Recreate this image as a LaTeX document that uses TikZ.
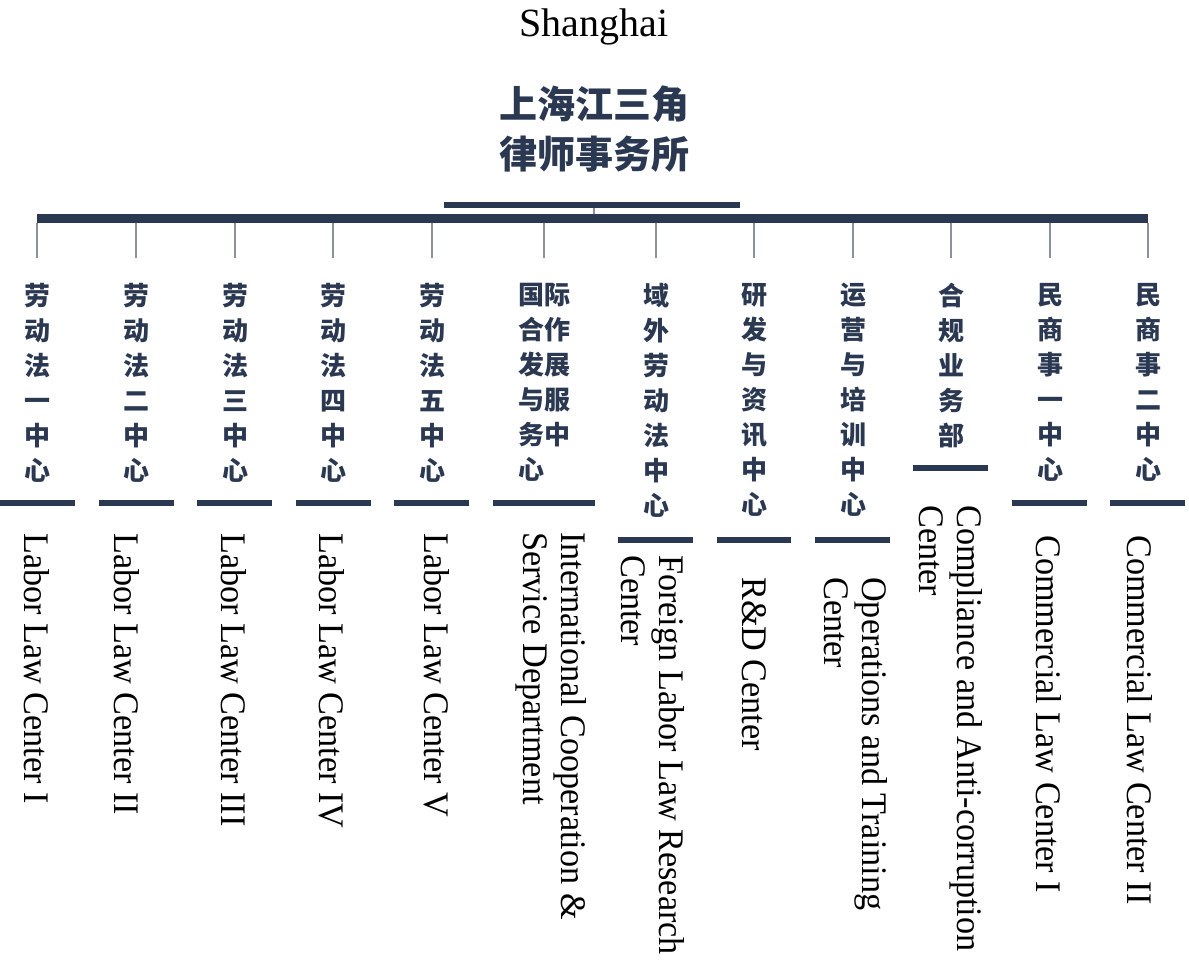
\documentclass[tikz,border=0pt]{standalone}
\usepackage{fontspec}
\setmainfont{Liberation Serif}
\newfontfamily\zhfont{Noto Sans CJK SC}
\newfontfamily\enfont[FakeStretch=0.95]{Liberation Serif}
\usetikzlibrary{positioning}
\definecolor{navy}{RGB}{43,56,82}
\definecolor{tickgray}{RGB}{140,146,156}

\begin{document}
\begin{tikzpicture}[x=1pt, y=-1pt,
    city/.style={font=\fontsize{40}{48}\selectfont, inner sep=0pt},
    title/.style={font=\zhfont\bfseries\fontsize{38}{50}\selectfont, text=navy, align=center, inner sep=0pt},
    zh/.style={font=\zhfont\bfseries\fontsize{26}{35}\selectfont, text=navy, inner sep=0pt, anchor=north, align=center},
    en/.style={font=\enfont\fontsize{36}{38}\selectfont, inner sep=0pt, anchor=north west, rotate=-90, align=left},
    topbar/.style={line width=6pt, navy},
    mainbar/.style={line width=9pt, navy},
    underbar/.style={line width=6pt, navy},
    drop/.style={line width=1.6pt, tickgray}]
    \useasboundingbox (0,0) rectangle (1189,962);

    % Heading
    \node[city] (city) at (594,27) {Shanghai};
    \node[title] (firm) at (594,129) {上海江三角\\律师事务所};

    % Bars
    \coordinate (hubtop) at (594,207.5);
    \coordinate (hubbot) at (594,214);
    \draw[topbar] (444,204.5) -- (740,204.5);
    \draw[mainbar] (37,218.5) -- (1148,218.5);
    \draw[drop] (hubtop) -- (hubbot);

    % Drops to the departments
    \foreach \i/\x in {1/37, 2/136, 3/235, 4/333, 5/432, 6/544, 7/656, 8/754, 9/853, 10/951, 11/1050, 12/1148} {
        \coordinate (top\i) at (\x,223);
        \coordinate (end\i) at (\x,258);
        \draw[drop] (top\i) -- (end\i);
    }

    % Chinese names
    \node[zh] (zh1) at (37,283) {劳\\动\\法\\一\\中\\心};
    \node[zh] (zh2) at (136,283) {劳\\动\\法\\二\\中\\心};
    \node[zh] (zh3) at (235,283) {劳\\动\\法\\三\\中\\心};
    \node[zh] (zh4) at (333,283) {劳\\动\\法\\四\\中\\心};
    \node[zh] (zh5) at (432,283) {劳\\动\\法\\五\\中\\心};
    \node[zh, align=left] (zh6) at (544,283) {国际\\合作\\发展\\与服\\务中\\心};
    \node[zh] (zh7) at (656,283) {域\\外\\劳\\动\\法\\中\\心};
    \node[zh] (zh8) at (754,283) {研\\发\\与\\资\\讯\\中\\心};
    \node[zh] (zh9) at (853,283) {运\\营\\与\\培\\训\\中\\心};
    \node[zh] (zh10) at (951,283) {合\\规\\业\\务\\部};
    \node[zh] (zh11) at (1050,283) {民\\商\\事\\一\\中\\心};
    \node[zh] (zh12) at (1148,283) {民\\商\\事\\二\\中\\心};

    % Underlines
    \foreach \a/\b/\y in {0/75/503, 99/174/503, 197/272/503, 296/371/503, 394/469/503, 493/595/503,
                          618/693/540, 717/791/540, 815/890/540, 913/988/468, 1012/1087/503, 1110/1185/503} {
        \draw[underbar] (\a,\y) -- (\b,\y);
    }

    % English names
    \node[en] (en1) at (50,533) {Labor Law Center I};
    \node[en] (en2) at (140,533) {Labor Law Center II};
    \node[en] (en3) at (247,533) {Labor Law Center III};
    \node[en] (en4) at (345,533) {Labor Law Center IV};
    \node[en] (en5) at (450,533) {Labor Law Center V};
    \node[en] (en6) at (587,532) {International Cooperation \&\\Service Department};
    \node[en] (en7) at (685,555) {Foreign Labor Law Research\\Center};
    \node[en] (en8) at (767,577) {R\&D Center};
    \node[en] (en9) at (888,577) {Operations and Training\\Center};
    \node[en] (en10) at (983,505) {Compliance and Anti-corruption\\Center};
    \node[en] (en11) at (1062,535) {Commercial Law Center I};
    \node[en] (en12) at (1153,535) {Commercial Law Center II};
\end{tikzpicture}
\end{document}
